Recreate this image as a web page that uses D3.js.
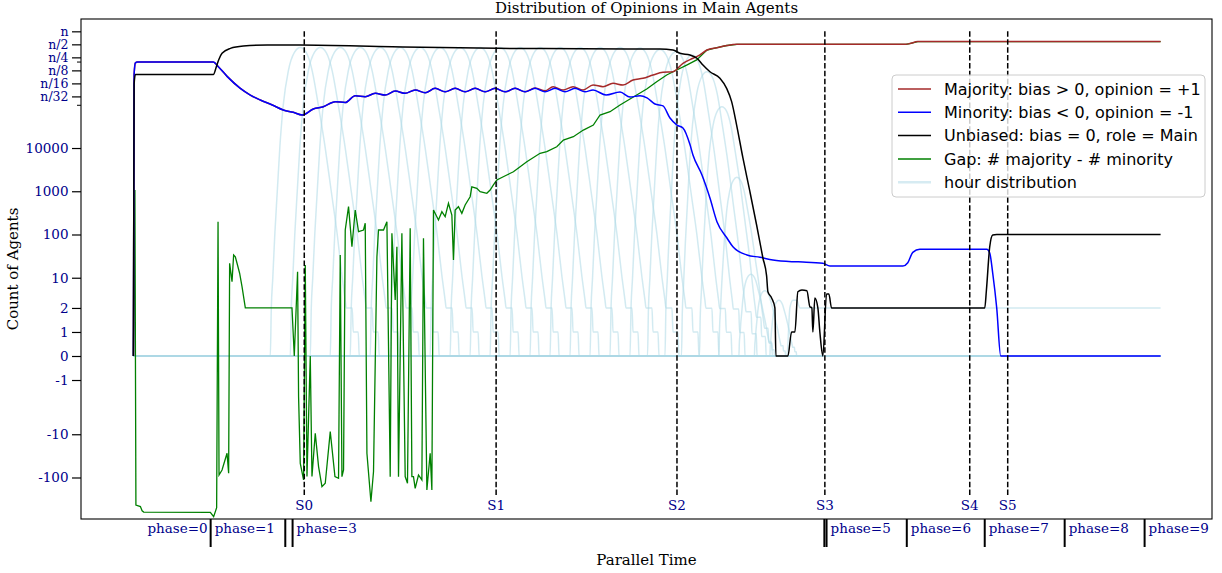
<!DOCTYPE html>
<html><head><meta charset="utf-8">
<script src="https://cdn.jsdelivr.net/npm/d3@7"></script>
<style>
html,body{margin:0;padding:0;background:#fff;}
svg{display:block;}
</style></head><body>
<svg id="chart" width="1222" height="573"></svg>
<script>
// ---------------- data ----------------
const N = 5e6;
const yTickValues = [N, N/2, N/4, N/8, N/16, N/32, 1e4, 1e3, 100, 10, 2, 1, 0, -1, -10, -100];
const yTickLabels = ['n','n/2','n/4','n/8','n/16','n/32','10000','1000','100','10','2','1','0','-1','-10','-100'];
const yMinorTicks = [1e6, 1e5];
const yLimits = [-912, 9.64e6];
const xLimits = [-51.45, 1080.45];

const sTimes = [172, 364, 545, 693, 838, 876];
const sLabels = ['S0','S1','S2','S3','S4','S5'];
const sLineRange = [N, -282];

const phaseNames = ['phase=0','phase=1','phase=2','phase=3','phase=4','phase=5','phase=6','phase=7','phase=8','phase=9'];
const phaseStart = [0, 78.3, 153, 160.3, 692.5, 694.7, 775, 853, 933, 1013];
const phaseLabelShown = [true, true, false, true, false, true, true, true, true, true];

const seriesNames = ['Majority: bias > 0, opinion = +1','Minority: bias < 0, opinion = -1','Unbiased: bias = 0, role = Main','Gap: # majority - # minority','hour distribution'];

const minority = [[1,0],[1.7,5e5],[3,9.3e5],[5,9.75e5],[81,9.75e5],[86,7.6e5],[95,4.48e5],[108,2.4e5],[118,1.68e5],[128,1.29e5],[140,9.9e4],[151,7.57e4],[161,6.7e4],[170,5.8e4],[181,8.0e4],[191,9.0e4],[203,1.18e5],[213,1.13e5],[223,1.62e5],[233,1.54e5],[243,1.84e5],[253,1.68e5],[263,2.08e5],[273,1.84e5],[283,2.2e5],[293,1.9e5],[303,2.4e5],[313,2.0e5],[323,2.4e5],[333,2.0e5],[343,2.4e5],[353,2.0e5],[363,2.4e5],[373,2.0e5],[383,2.4e5],[393,2.0e5],[403,2.4e5],[413,2.0e5],[423,2.4e5],[433,2.0e5],[443,2.4e5],[453,2.0e5],[461,2.2e5],[474,1.68e5],[488,1.97e5],[498,1.51e5],[508,1.62e5],[515,1.44e5],[523,1.04e5],[531,9.4e4],[538,4.94e4],[545,3.4e4],[551,2.9e4],[558,1.2e4],[561,6.9e3],[570,2.38e3],[578,698],[585,198],[595,83],[601,52],[615,33.6],[628,29.7],[641,25.7],[661,23.5],[671,23.1],[691,21.6],[698,18.7],[771,18.7],[776,22.3],[781,38.7],[788,45.5],[855,45.5],[858,37.3],[861,12.7],[865,2],[869,0],[1029,0]];

const majority = [[1,0],[1.7,5e5],[3,9.3e5],[5,9.75e5],[81,9.75e5],[86,7.6e5],[95,4.48e5],[108,2.4e5],[118,1.68e5],[128,1.29e5],[140,9.9e4],[151,7.57e4],[161,6.7e4],[170,5.8e4],[181,8.0e4],[191,9.0e4],[203,1.18e5],[213,1.13e5],[223,1.62e5],[233,1.54e5],[243,1.84e5],[253,1.68e5],[263,2.08e5],[273,1.84e5],[283,2.2e5],[293,1.9e5],[303,2.4e5],[313,2.0e5],[323,2.4e5],[333,2.0e5],[343,2.4e5],[353,2.0e5],[363,2.4e5],[373,2.0e5],[383,2.4e5],[393,2.0e5],[403,2.45e5],[413,2.1e5],[421,2.62e5],[431,2.2e5],[441,2.62e5],[451,2.2e5],[461,2.87e5],[471,2.62e5],[481,3.13e5],[491,2.87e5],[501,3.74e5],[511,4.1e5],[521,4.89e5],[531,5.65e5],[541,5.82e5],[551,9.1e5],[561,1.19e6],[568,1.42e6],[575,1.85e6],[585,2.09e6],[595,2.35e6],[605,2.5e6],[774,2.5e6],[778,2.6e6],[786,2.89e6],[1029,2.89e6]];

const unbiased = [[1,0],[1.7,3e5],[3,5e5],[81,5e5],[84,7.59e5],[86.3,1.09e6],[89.7,1.55e6],[98,2.02e6],[111,2.29e6],[135,2.41e6],[168,2.41e6],[260,2.2e6],[365,2.02e6],[450,1.98e6],[515,1.95e6],[528,1.95e6],[541,1.85e6],[548,1.55e6],[558,1.42e6],[565,1.19e6],[571,8.3e5],[578,5.8e5],[588,4.1e5],[594.7,2.4e5],[599.7,1.18e5],[604.7,3.4e4],[611,5.9e3],[618,977],[624.7,166],[631,28.6],[634.7,11],[636,4.75],[639.7,3.4],[643,2],[644,0],[656,0],[659.7,1],[663,1],[666,4.75],[670,5.2],[675,5],[678,2.14],[680,2],[681,1],[683,3.4],[686,2],[688,1],[691,0],[694.7,4.2],[697,4.2],[699.7,2],[853,2],[854.7,5.2],[858,52],[861,97],[865,100],[1029,100]];

const gap = [[1,0],[2.5,1070],[3.5,-433],[8,-470],[9.7,-590],[11.3,-630],[78,-638],[81.3,-805],[84.3,-500],[85.7,198],[86.7,-87.5],[89.7,-67],[94.7,-27.5],[96.3,-80],[97.3,21.6],[99.7,8.1],[101.3,33.6],[103,30.6],[104.7,21.6],[107.3,12.7],[109.7,6.2],[113,2],[159.7,2],[162,0],[165.3,13.8],[166.3,-1.69],[168,-47],[171.3,-114],[173,19.7],[174.7,-95],[178,0],[179.7,-95],[183,-9.5],[186.3,-56],[189.7,-163],[193,-136],[198,-8.7],[202.7,-95.5],[206.3,-104],[208,33.6],[209.7,-95.5],[211.3,-67],[213,127],[216.3,440],[219.7,52.3],[223,369],[226.3,116],[231.3,127],[233,182],[234.7,-27.5],[238.7,-363],[241.3,-73],[244.7,30.6],[246.3,127],[251.3,127],[254.7,198],[258,-95.5],[259.7,107],[263,3.05],[264.7,52.3],[266.3,-95.5],[269.7,107],[273,-95],[275.3,-136],[278,139],[279.7,-95],[281.3,-95.5],[283,-178],[286.3,-87.5],[289.7,-114],[291.3,81.6],[294.7,-195],[298,-27.5],[299.7,-195],[301.3,369],[306.3,216],[309.7,337],[313,258],[316.3,526],[319.7,282],[321.3,25.7],[323,369],[326.3,440],[329.7,309],[333,481],[338,748],[339.7,1270],[344.7,1170],[348,977],[354.7,897],[358,1070],[361.3,1400],[364.7,1820],[374.7,2380],[381.3,2830],[388,3700],[394.7,4830],[408,7550],[414.7,8220],[424.7,10700],[431.3,15300],[441.3,18300],[451.3,26000],[461.3,34000],[468,58000],[478,69200],[488,99000],[498,136000],[504.7,168000],[514.7,232000],[524.7,342000],[534.7,489000],[544.7,637000],[554.7,830000],[564.7,1090000],[575,1.85e6],[585,2.09e6],[595,2.35e6],[605,2.5e6],[774,2.5e6],[778,2.6e6],[786,2.89e6],[1029,2.89e6]];

const hourShape = [[-30,0],[-29,2],[-27.5,10],[-25.5,100],[-23,1e3],[-20.5,1e4],[-17,1e5],[-12,6e5],[-6,1.6e6],[0,2.1e6],[6,1.6e6],[12,6e5],[18,1e5],[25,1e4],[31,1e3],[37,100],[42,10],[45,3],[46,2],[52,2],[53,1],[58,1],[59,0]];
const hourPeakTime = [168,188,208,228,248,268,288,308,328,348,368,388,408,428,448,468,488,508,528,544,560,575,590,605,619,633,647];
const hourPeakCount = [2.1e6,2.1e6,2.1e6,2.1e6,2.1e6,2.1e6,2.1e6,2.1e6,2.1e6,2.1e6,2.1e6,2.1e6,2.1e6,2.1e6,2.1e6,2.1e6,2.1e6,2.05e6,1.9e6,1.69e6,1.42e6,5.8e5,9e4,2.1e3,12,5,3];
const hourWidth = [1,1,1,1,1,1,1,1,1,1,1,1,1,1,1,1,1,1,1,0.95,0.9,0.85,0.75,0.6,0.4,0.35,0.3];
const lastHour = [[1,0],[655,0],[658,2],[661,3],[665,3],[668,2],[1029,2]];
const timeRange = [1, 1029];

// ---------------- scales ----------------
const LIN = 1 / (1 - 0.1);
function symT(v){ const a = Math.abs(v); return a <= 2 ? v / 2 * LIN : Math.sign(v) * (LIN + Math.log10(a / 2)); }
function symInv(T){ const a = Math.abs(T); return a <= LIN ? T * 2 / LIN : Math.sign(T) * 2 * Math.pow(10, a - LIN); }

const P = {left:81, right:1212, top:19, bottom:519};
const x = d3.scaleLinear().domain(xLimits).range([P.left, P.right]);
const yT = d3.scaleLinear().domain(yLimits.map(symT)).range([P.bottom, P.top]);
const y = v => yT(symT(v));

const svg = d3.select('#chart');
const serif = 'DejaVu Serif';
const tickColor = '#00008b';

svg.append('defs').append('clipPath').attr('id','clip')
  .append('rect').attr('x',P.left).attr('y',P.top).attr('width',P.right-P.left).attr('height',P.bottom-P.top);

const plotG = svg.append('g').attr('clip-path','url(#clip)');

const lineSmooth = d3.line().x(d=>x(d[0])).y(d=>y(d[1])).curve(d3.curveMonotoneX);
const lineLin = d3.line().x(d=>x(d[0])).y(d=>y(d[1]));

// hour distribution
const Tref = symT(hourShape.find(d=>d[0]===0)[1]);
const hours = hourPeakTime.map((pt,i)=>{
  const k = symT(hourPeakCount[i]) / Tref;
  const pts = hourShape.map(([dt,v])=>[pt + dt*hourWidth[i], symInv(symT(v)*k)]);
  return [[timeRange[0],0], ...pts, [timeRange[1],0]];
});
hours.push(lastHour);

plotG.append('g').selectAll('path').data(hours).join('path')
  .attr('d', lineSmooth).attr('fill','none')
  .attr('stroke','#add8e6').attr('stroke-width',1.5).attr('stroke-opacity',0.55);

plotG.append('path').datum(gap).attr('d',lineLin).attr('fill','none').attr('stroke','#008000').attr('stroke-width',1.3);
plotG.append('path').datum(majority).attr('d',lineSmooth).attr('fill','none').attr('stroke','#a52a2a').attr('stroke-width',1.5);
plotG.append('path').datum(minority).attr('d',lineSmooth).attr('fill','none').attr('stroke','#0000ff').attr('stroke-width',1.5);
plotG.append('path').datum(unbiased).attr('d',lineSmooth).attr('fill','none').attr('stroke','#000000').attr('stroke-width',1.5);

// S lines
const sG = svg.append('g');
sG.selectAll('line').data(sTimes).join('line')
  .attr('x1',d=>x(d)).attr('x2',d=>x(d))
  .attr('y1',y(sLineRange[0])).attr('y2',y(sLineRange[1]))
  .attr('stroke','#000').attr('stroke-width',1.5).attr('stroke-dasharray','5.5,2.4');
sG.selectAll('text').data(sTimes).join('text')
  .attr('x',d=>x(d)).attr('y',y(sLineRange[1])+13)
  .attr('text-anchor','middle').attr('font-family',serif).attr('font-size',13.5).attr('fill',tickColor)
  .text((d,i)=>sLabels[i]);

// frame
svg.append('rect').attr('x',P.left).attr('y',P.top).attr('width',P.right-P.left).attr('height',P.bottom-P.top)
  .attr('fill','none').attr('stroke','#000').attr('stroke-width',1.1);

// y axis
const yAxis = d3.axisLeft(yT).tickValues(yTickValues.map(symT)).tickFormat((d,i)=>yTickLabels[i]).tickSize(9).tickPadding(3.5);
svg.append('g').attr('transform',`translate(${P.left},0)`).call(yAxis)
  .call(g=>g.select('.domain').remove())
  .call(g=>g.selectAll('line').attr('stroke','#000').attr('stroke-width',1.2))
  .call(g=>g.selectAll('text').attr('font-family',serif).attr('fill',tickColor)
      .attr('font-size',(d,i)=> yTickLabels[i].startsWith('n') ? 12.5 : 13.5));
const yMinor = d3.axisLeft(yT).tickValues(yMinorTicks.map(symT)).tickFormat('').tickSize(4);
svg.append('g').attr('transform',`translate(${P.left},0)`).call(yMinor)
  .call(g=>g.select('.domain').remove())
  .call(g=>g.selectAll('line').attr('stroke','#000').attr('stroke-width',1));

// phase ticks and labels
const phG = svg.append('g');
phaseStart.forEach((t,i)=>{
  if(i>0){
    phG.append('line').attr('x1',x(t)).attr('x2',x(t)).attr('y1',P.bottom).attr('y2',P.bottom+28)
      .attr('stroke','#000').attr('stroke-width',2);
  }
  if(phaseLabelShown[i]){
    const isFirst = i===0;
    phG.append('text')
      .attr('x', isFirst ? x(phaseStart[1]) - 3 : x(t) + 4)
      .attr('y', P.bottom + 14)
      .attr('text-anchor', isFirst ? 'end' : 'start')
      .attr('font-family',serif).attr('font-size',13.5).attr('fill',tickColor)
      .text(phaseNames[i]);
  }
});

// titles
svg.append('text').attr('x',(P.left+P.right)/2).attr('y',13).attr('text-anchor','middle')
  .attr('font-family',serif).attr('font-size',15).attr('fill','#000').text('Distribution of Opinions in Main Agents');
svg.append('text').attr('x',(P.left+P.right)/2).attr('y',565).attr('text-anchor','middle')
  .attr('font-family',serif).attr('font-size',15).attr('fill','#000').text('Parallel Time');
svg.append('text').attr('transform',`translate(18,${(P.top+P.bottom)/2}) rotate(-90)`).attr('text-anchor','middle')
  .attr('font-family',serif).attr('font-size',15).attr('fill','#000').text('Count of Agents');

// legend
const legColors = ['#a52a2a','#0000ff','#000000','#008000','#add8e6'];
const leg = svg.append('g').attr('transform','translate(892,75)');
leg.append('rect').attr('width',313).attr('height',122).attr('rx',4)
  .attr('fill','#fff').attr('fill-opacity',0.8).attr('stroke','#cccccc').attr('stroke-width',1);
seriesNames.forEach((name,i)=>{
  const cy = 14 + i*23.3;
  leg.append('line').attr('x1',6).attr('x2',39).attr('y1',cy).attr('y2',cy)
    .attr('stroke',legColors[i]).attr('stroke-width', i===4 ? 2.5 : 1.5).attr('stroke-opacity', i===4 ? 0.5 : 1);
  leg.append('text').attr('x',52).attr('y',cy).attr('dy','0.35em')
    .attr('font-family','DejaVu Sans').attr('font-size',16).attr('fill','#000').text(name);
});
</script>
</body></html>
